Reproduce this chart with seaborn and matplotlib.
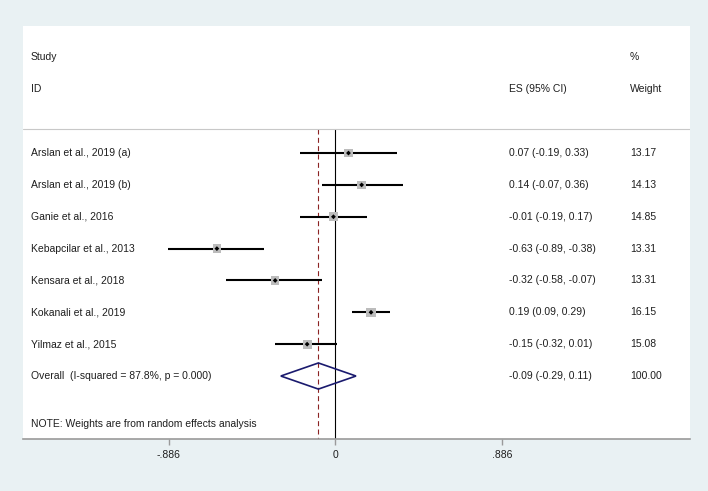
import numpy as np
import pandas as pd
import matplotlib
matplotlib.use("Agg")
import matplotlib.pyplot as plt
from matplotlib.patches import Polygon
import seaborn as sns

# study level effect sizes (ES with 95% CI) and random-effects weights
studies = ["Arslan et al., 2019 (a)", "Arslan et al., 2019 (b)", "Ganie et al., 2016",
           "Kebapcilar et al., 2013", "Kensara et al., 2018", "Kokanali et al., 2019",
           "Yilmaz et al., 2015"]
es = [0.07, 0.14, -0.01, -0.63, -0.32, 0.19, -0.15]
lo = [-0.19, -0.07, -0.19, -0.89, -0.58, 0.09, -0.32]
hi = [0.33, 0.36, 0.17, -0.38, -0.07, 0.29, 0.01]
weights = [13.17, 14.13, 14.85, 13.31, 13.31, 16.15, 15.08]

overall_label = "Overall  (I-squared = 87.8%, p = 0.000)"
overall_es = -0.09
overall_lo = -0.29
overall_hi = 0.11
overall_weight = 100.00
note = "NOTE: Weights are from random effects analysis"

xtick_vals = [-0.886, 0, 0.886]
xtick_labels = ["-.886", "0", ".886"]

df = pd.DataFrame({"study": studies, "es": es, "lo": lo, "hi": hi, "weight": weights})
df["row"] = np.arange(len(df))
overall_row = len(df)

sns.set_theme(style="white")
plt.rcParams["font.family"] = ["Liberation Sans", "DejaVu Sans"]

fig = plt.figure(figsize=(7.08, 4.91), dpi=100, facecolor="#e9f1f3")
ax = fig.add_axes([0.0321, 0.1059, 0.9425, 0.841])
ax.set_facecolor("white")

ytop, ybot = -3.986, 8.977
sep = -0.753

# CI lines and weighted squares
ax.hlines(df["row"], df["lo"], df["hi"], color="black", lw=1.5, zorder=2)
sns.scatterplot(data=df, x="es", y="row", size="weight", sizes=(36, 44), marker="s",
                color="#bcbcbc", edgecolor="none", legend=False, ax=ax, zorder=3)
sns.scatterplot(data=df, x="es", y="row", marker="D", color="black", s=6,
                edgecolor="none", legend=False, ax=ax, zorder=4)

# overall diamond
diamond = Polygon([(overall_lo, overall_row), (overall_es, overall_row - 0.41),
                   (overall_hi, overall_row), (overall_es, overall_row + 0.41)],
                  closed=True, fill=False, edgecolor="#1a1a6e", lw=1.2, zorder=4)
ax.add_patch(diamond)

# reference lines
ax.vlines(0, sep, ybot, color="black", lw=0.8, zorder=1)
ax.vlines(overall_es, sep, ybot, color="#8b2323", lw=0.8, linestyles=(0, (4.5, 3)), zorder=1)
ax.axhline(sep, color="#c8c8c8", lw=0.8)

# text columns
tr = ax.get_yaxis_transform()
fs = 7.5
tc = "#1e1e1e"
x_study, x_es, x_w = 0.012, 0.729, 0.910
ax.text(x_study, -3, "Study", transform=tr, va="center", fontsize=fs, color=tc)
ax.text(x_study, -2, "ID", transform=tr, va="center", fontsize=fs, color=tc)
ax.text(x_es, -2, "ES (95% CI)", transform=tr, va="center", fontsize=fs, color=tc)
ax.text(x_w, -3, "%", transform=tr, va="center", fontsize=fs, color=tc)
ax.text(x_w, -2, "Weight", transform=tr, va="center", fontsize=fs, color=tc)

for _, r in df.iterrows():
    ax.text(x_study, r["row"], r["study"], transform=tr, va="center", fontsize=fs, color=tc)
    ax.text(x_es, r["row"], f"{r['es']:.2f} ({r['lo']:.2f}, {r['hi']:.2f})",
            transform=tr, va="center", fontsize=fs, color=tc)
    ax.text(x_w, r["row"], f"{r['weight']:.2f}", transform=tr, va="center", fontsize=fs, color=tc)

ax.text(x_study, overall_row, overall_label, transform=tr, va="center", fontsize=fs, color=tc)
ax.text(x_es, overall_row, f"{overall_es:.2f} ({overall_lo:.2f}, {overall_hi:.2f})",
        transform=tr, va="center", fontsize=fs, color=tc)
ax.text(x_w, overall_row, f"{overall_weight:.2f}", transform=tr, va="center", fontsize=fs, color=tc)
ax.text(x_study, 8.5, note, transform=tr, va="center", fontsize=fs, color=tc)

# axes
ax.set_xlim(-1.663, 1.887)
ax.set_ylim(ybot, ytop)
for s in ["top", "left", "right"]:
    ax.spines[s].set_visible(False)
ax.spines["bottom"].set_color("#9a9a9a")
ax.spines["bottom"].set_linewidth(1.2)
ax.set_xticks(xtick_vals, xtick_labels)
ax.set_yticks([])
ax.tick_params(axis="x", bottom=True, length=4, width=1, color="#9a9a9a", pad=4,
               labelsize=fs, labelcolor=tc)
ax.set_xlabel("")
ax.set_ylabel("")

fig.savefig("out.png", dpi=100, facecolor=fig.get_facecolor())
